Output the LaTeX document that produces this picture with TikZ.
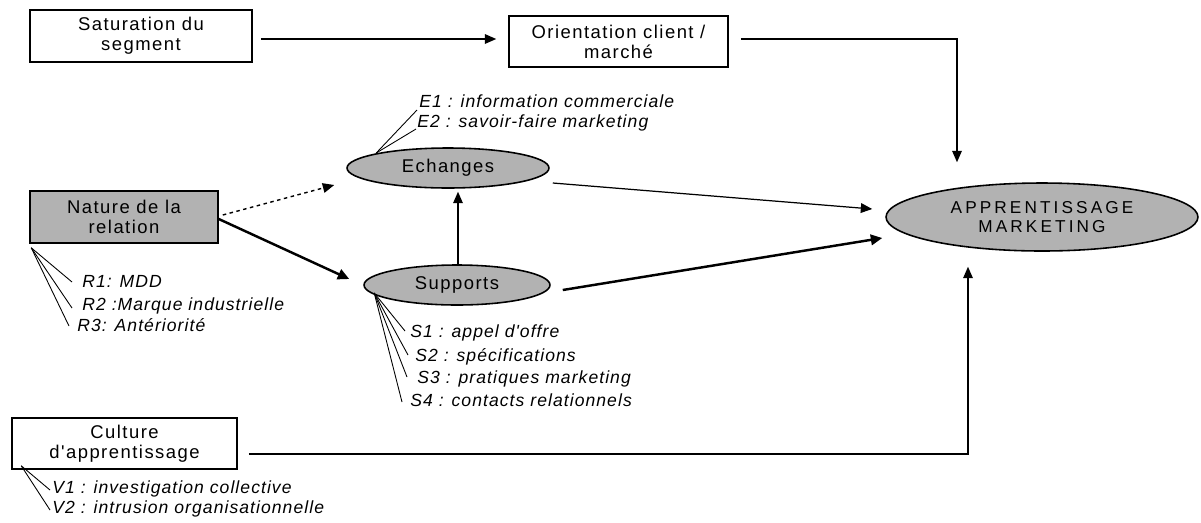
\documentclass[tikz,border=0pt]{standalone}
\usepackage{fontspec}
\setmainfont{Liberation Sans}
\newfontfamily\boxfont[LetterSpace=8]{Liberation Sans}
\newfontfamily\capsfont[LetterSpace=18]{Liberation Sans}
\newfontfamily\varfont[LetterSpace=6]{Liberation Sans}
\usepackage{tikz}
\usetikzlibrary{shapes.geometric, arrows.meta, positioning, calc}
\definecolor{nodegray}{RGB}{178,178,178}
\tikzset{
  factor/.style={rectangle, draw=black, fill=white, align=center, inner sep=0pt, font=\boxfont\fontsize{10.5}{11.3}\selectfont, line width=0.9pt},
  factorG/.style={factor, fill=nodegray},
  medium/.style={ellipse, draw=black, fill=nodegray, align=center, inner sep=0pt, font=\boxfont\fontsize{10.5}{11.3}\selectfont, line width=0.9pt},
  varitem/.style={anchor=base west, inner sep=0pt, font=\varfont\itshape\fontsize{10}{11}\selectfont},
  arrow/.style={-{Triangle[length=6.5pt,width=5.5pt]}, line width=0.7pt},
  thickarrow/.style={-{Triangle[length=6.5pt,width=6pt]}, line width=1.4pt},
  dotarrow/.style={-{Triangle[length=6.5pt,width=5.5pt]}, line width=0.8pt, dash pattern=on 2pt off 2pt},
  leader/.style={line width=0.5pt},
}
\begin{document}
\begin{tikzpicture}[x=0.02cm, y=-0.02cm]
\useasboundingbox (0,0) rectangle (1201,522);
% factors
\node (sat) [factor, minimum width=4.44cm, minimum height=1.04cm] at (141,36) {Saturation du\\segment};
\node (orient) [factor, minimum width=4.38cm, minimum height=1.02cm] at (618.5,41.5) {Orientation client /\\march\'e};
\node (nature) [factorG, minimum width=3.76cm, minimum height=1.04cm] at (124,217) {Nature de la\\relation};
\node (culture) [factor, minimum width=4.5cm, minimum height=1.02cm] at (124.5,443.5) {Culture\\d'apprentissage};
% ellipses
\node (ech) [medium, minimum width=4.04cm, minimum height=0.8cm] at (448,168) {Echanges};
\node (sup) [medium, minimum width=3.72cm, minimum height=0.8cm] at (457,285) {Supports};
\node (appr) [medium, minimum width=6.24cm, minimum height=1.36cm, font=\capsfont\fontsize{9.8}{11.3}\selectfont] at (1042,217) {APPRENTISSAGE\\MARKETING};
% variables
\node (e1) [varitem] at (419,107) {E1 : information commerciale};
\node (e2) [varitem] at (417,127) {E2 : savoir-faire marketing};
\node (r1) [varitem] at (82,287) {R1: MDD};
\node (r2) [varitem] at (82,310) {R2 :Marque industrielle};
\node (r3) [varitem] at (77,331) {R3: Ant\'eriorit\'e};
\node (s1) [varitem] at (410,337) {S1 : appel d'offre};
\node (s2) [varitem] at (415,361) {S2 : sp\'ecifications};
\node (s3) [varitem] at (417,383) {S3 : pratiques marketing};
\node (s4) [varitem] at (410,406) {S4 : contacts relationnels};
\node (v1) [varitem] at (52,493) {V1 : investigation collective};
\node (v2) [varitem] at (52,513) {V2 : intrusion organisationnelle};
% arrows
\draw[arrow] ($(sat.east)+(8,3)$) -- ($(orient.west)+(-12,-2.5)$);
\draw[arrow] ($(orient.east)+(12,-2.5)$) -| ($(appr.north)+(-85,-20)$);
\draw[arrow] ($(culture.east)+(11,10.5)$) -| ($(appr.south)+(-74,15)$);
\draw[dotarrow] ($(nature.east)+(4,-2)$) -- ($(ech.west)+(-12,17)$);
\draw[thickarrow] ($(nature.east)+(0,2)$) -- ($(sup.west)+(-14,-6)$);
\draw[arrow] ($(sup.north)+(1,0)$) -- ($(sup.north |- ech.south)+(1,3)$);
\draw[arrow] ($(ech.east)+(3,15)$) -- ($(appr.west)+(-13,-8)$);
\draw[thickarrow] ($(sup.east)+(12,5)$) -- ($(appr.west)+(-3,21)$);
% leaders
\draw[leader] ($(ech.west)+(30,-15)$) -- ($(e1.base west)+(-2,3)$);
\draw[leader] ($(ech.west)+(30,-15)$) -- ($(e2.base west)+(-1,2)$);
\draw[leader] ($(nature.south west)+(2,4)$) -- ($(r1.base west)+(-10,-5)$);
\draw[leader] ($(nature.south west)+(2,4)$) -- ($(r2.base west)+(-10,-2)$);
\draw[leader] ($(nature.south west)+(2,4)$) -- ($(r3.base west)+(-8,-5)$);
\draw[leader] ($(sup.west)+(11,8)$) -- ($(s1.base west)+(-5,-6)$);
\draw[leader] ($(sup.west)+(11,8)$) -- ($(s2.base west)+(-7,-6)$);
\draw[leader] ($(sup.west)+(11,8)$) -- ($(s3.base west)+(-10,-6)$);
\draw[leader] ($(sup.west)+(11,8)$) -- ($(s4.base west)+(-8,-4)$);
\draw[leader] ($(culture.south west)+(10,-4)$) -- ($(v1.base west)+(-2,-3)$);
\draw[leader] ($(culture.south west)+(10,-4)$) -- ($(v2.base west)+(-2,-3)$);
\end{tikzpicture}
\end{document}
